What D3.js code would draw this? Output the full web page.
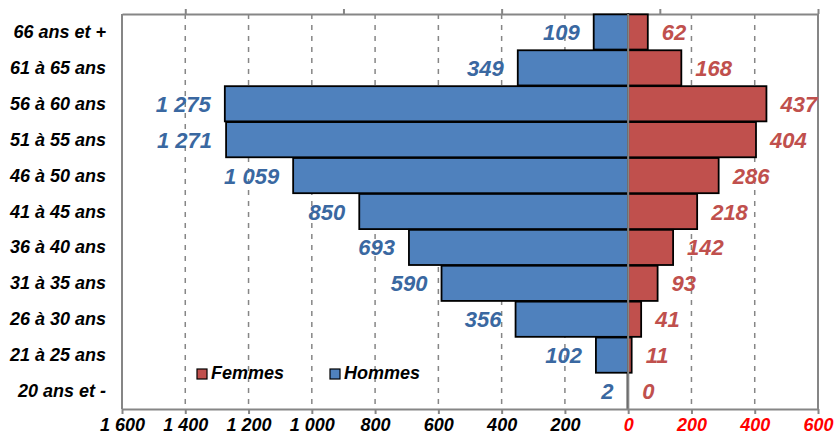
<!DOCTYPE html>
<html>
<head>
<meta charset="utf-8">
<script src="https://cdn.jsdelivr.net/npm/d3@7"></script>
<style>
  body { margin: 0; background: #fff; }
  text { font-family: "Liberation Sans", Arial, sans-serif; font-weight: bold; font-style: italic; }
</style>
</head>
<body>
<svg id="chart" width="834" height="436"></svg>
<script>
// age groups, top to bottom
const categories = ["66 ans et +", "61 à 65 ans", "56 à 60 ans", "51 à 55 ans", "46 à 50 ans",
  "41 à 45 ans", "36 à 40 ans", "31 à 35 ans", "26 à 30 ans", "21 à 25 ans", "20 ans et -"];
const hommes = [109, 349, 1275, 1271, 1059, 850, 693, 590, 356, 102, 2];
const femmes = [62, 168, 437, 404, 286, 218, 142, 93, 41, 11, 0];
const xTicks = [-1600, -1400, -1200, -1000, -800, -600, -400, -200, 0, 200, 400, 600];
const topTicks = [-1400, -900, -400, 100, 600];

const blue = "#4F81BD", red = "#C0504D", grey = "#868686";
const fmt = d3.formatLocale({ decimal: ",", thousands: " ", grouping: [3], currency: ["", "€"] }).format(",d");

const svg = d3.select("#chart");
const plotL = 122, plotR = 818, plotT = 14, plotB = 409;

const x = d3.scaleLinear().domain([-1600, 600]).range([plotL, plotR]);
const y = d3.scaleBand().domain(categories).range([plotT, plotB]).paddingInner(0.02).paddingOuter(0.01);

// dashed grid
svg.append("g").selectAll("line")
  .data(xTicks.filter(d => d !== -1600 && d !== 0 && d !== 600))
  .join("line")
  .attr("x1", d => x(d)).attr("x2", d => x(d))
  .attr("y1", plotT).attr("y2", plotB)
  .attr("stroke", grey).attr("stroke-width", 1.5).attr("stroke-dasharray", "5,6");

// frame sides
svg.append("line").attr("x1", plotL).attr("x2", plotL).attr("y1", plotT).attr("y2", plotB).attr("stroke", grey).attr("stroke-width", 2);
svg.append("line").attr("x1", plotR).attr("x2", plotR).attr("y1", plotT).attr("y2", plotB).attr("stroke", grey).attr("stroke-width", 2);

// top (secondary) axis
const topAxis = svg.append("g").attr("transform", `translate(0,${plotT})`)
  .call(d3.axisTop(x).tickValues(topTicks).tickSize(5).tickFormat("").tickSizeOuter(0));
topAxis.selectAll("line, path").attr("stroke", grey).attr("stroke-width", 2);

// bars
const bars = svg.append("g").attr("stroke", "#000").attr("stroke-width", 1.8);
bars.selectAll(".h").data(hommes).join("rect").attr("class", "h")
  .attr("x", d => x(-d)).attr("width", d => x(0) - x(-d))
  .attr("y", (d, i) => y(categories[i])).attr("height", y.bandwidth())
  .attr("fill", blue);
bars.selectAll(".f").data(femmes).join("rect").attr("class", "f")
  .attr("x", x(0)).attr("width", d => x(d) - x(0))
  .attr("y", (d, i) => y(categories[i])).attr("height", y.bandwidth())
  .attr("fill", red);

// zero line
svg.append("line").attr("x1", x(0)).attr("x2", x(0)).attr("y1", plotT).attr("y2", plotB).attr("stroke", grey).attr("stroke-width", 2);

// value labels
const mid = i => y(categories[i]) + y.bandwidth() / 2;
svg.append("g").selectAll("text").data(hommes).join("text")
  .attr("x", d => x(-d) - 14).attr("y", (d, i) => mid(i) + 8)
  .attr("text-anchor", "end").attr("font-size", 22).attr("fill", "#3A68A1")
  .text(d => fmt(d));
svg.append("g").selectAll("text").data(femmes).join("text")
  .attr("x", d => x(d) + 14).attr("y", (d, i) => mid(i) + 8)
  .attr("font-size", 22).attr("fill", red)
  .text(d => fmt(d));

// category labels
svg.append("g").selectAll("text").data(categories).join("text")
  .attr("x", 106).attr("y", d => y(d) + y.bandwidth() / 2 + 6)
  .attr("text-anchor", "end").attr("font-size", 18).attr("fill", "#000")
  .text(d => d);

// bottom axis
const xAxis = svg.append("g").attr("transform", `translate(0,${plotB})`)
  .call(d3.axisBottom(x).tickValues(xTicks).tickSize(5).tickSizeOuter(0).tickFormat(d => fmt(Math.abs(d))));
xAxis.selectAll("line, path").attr("stroke", grey).attr("stroke-width", 2);
xAxis.selectAll("text").attr("font-size", 18).attr("dy", null).attr("y", 22)
  .attr("fill", d => d >= 0 ? "#FF0000" : "#000");

// legend
const legend = svg.append("g").attr("transform", "translate(197,369)");
[["Femmes", red, 0], ["Hommes", blue, 133]].forEach(([name, c, dx]) => {
  legend.append("rect").attr("x", dx).attr("y", 0).attr("width", 10).attr("height", 10)
    .attr("fill", c).attr("stroke", "#000").attr("stroke-width", 1.2);
  legend.append("text").attr("x", dx + 14).attr("y", 10).attr("font-size", 18).attr("fill", "#000").text(name);
});
</script>
</body>
</html>
